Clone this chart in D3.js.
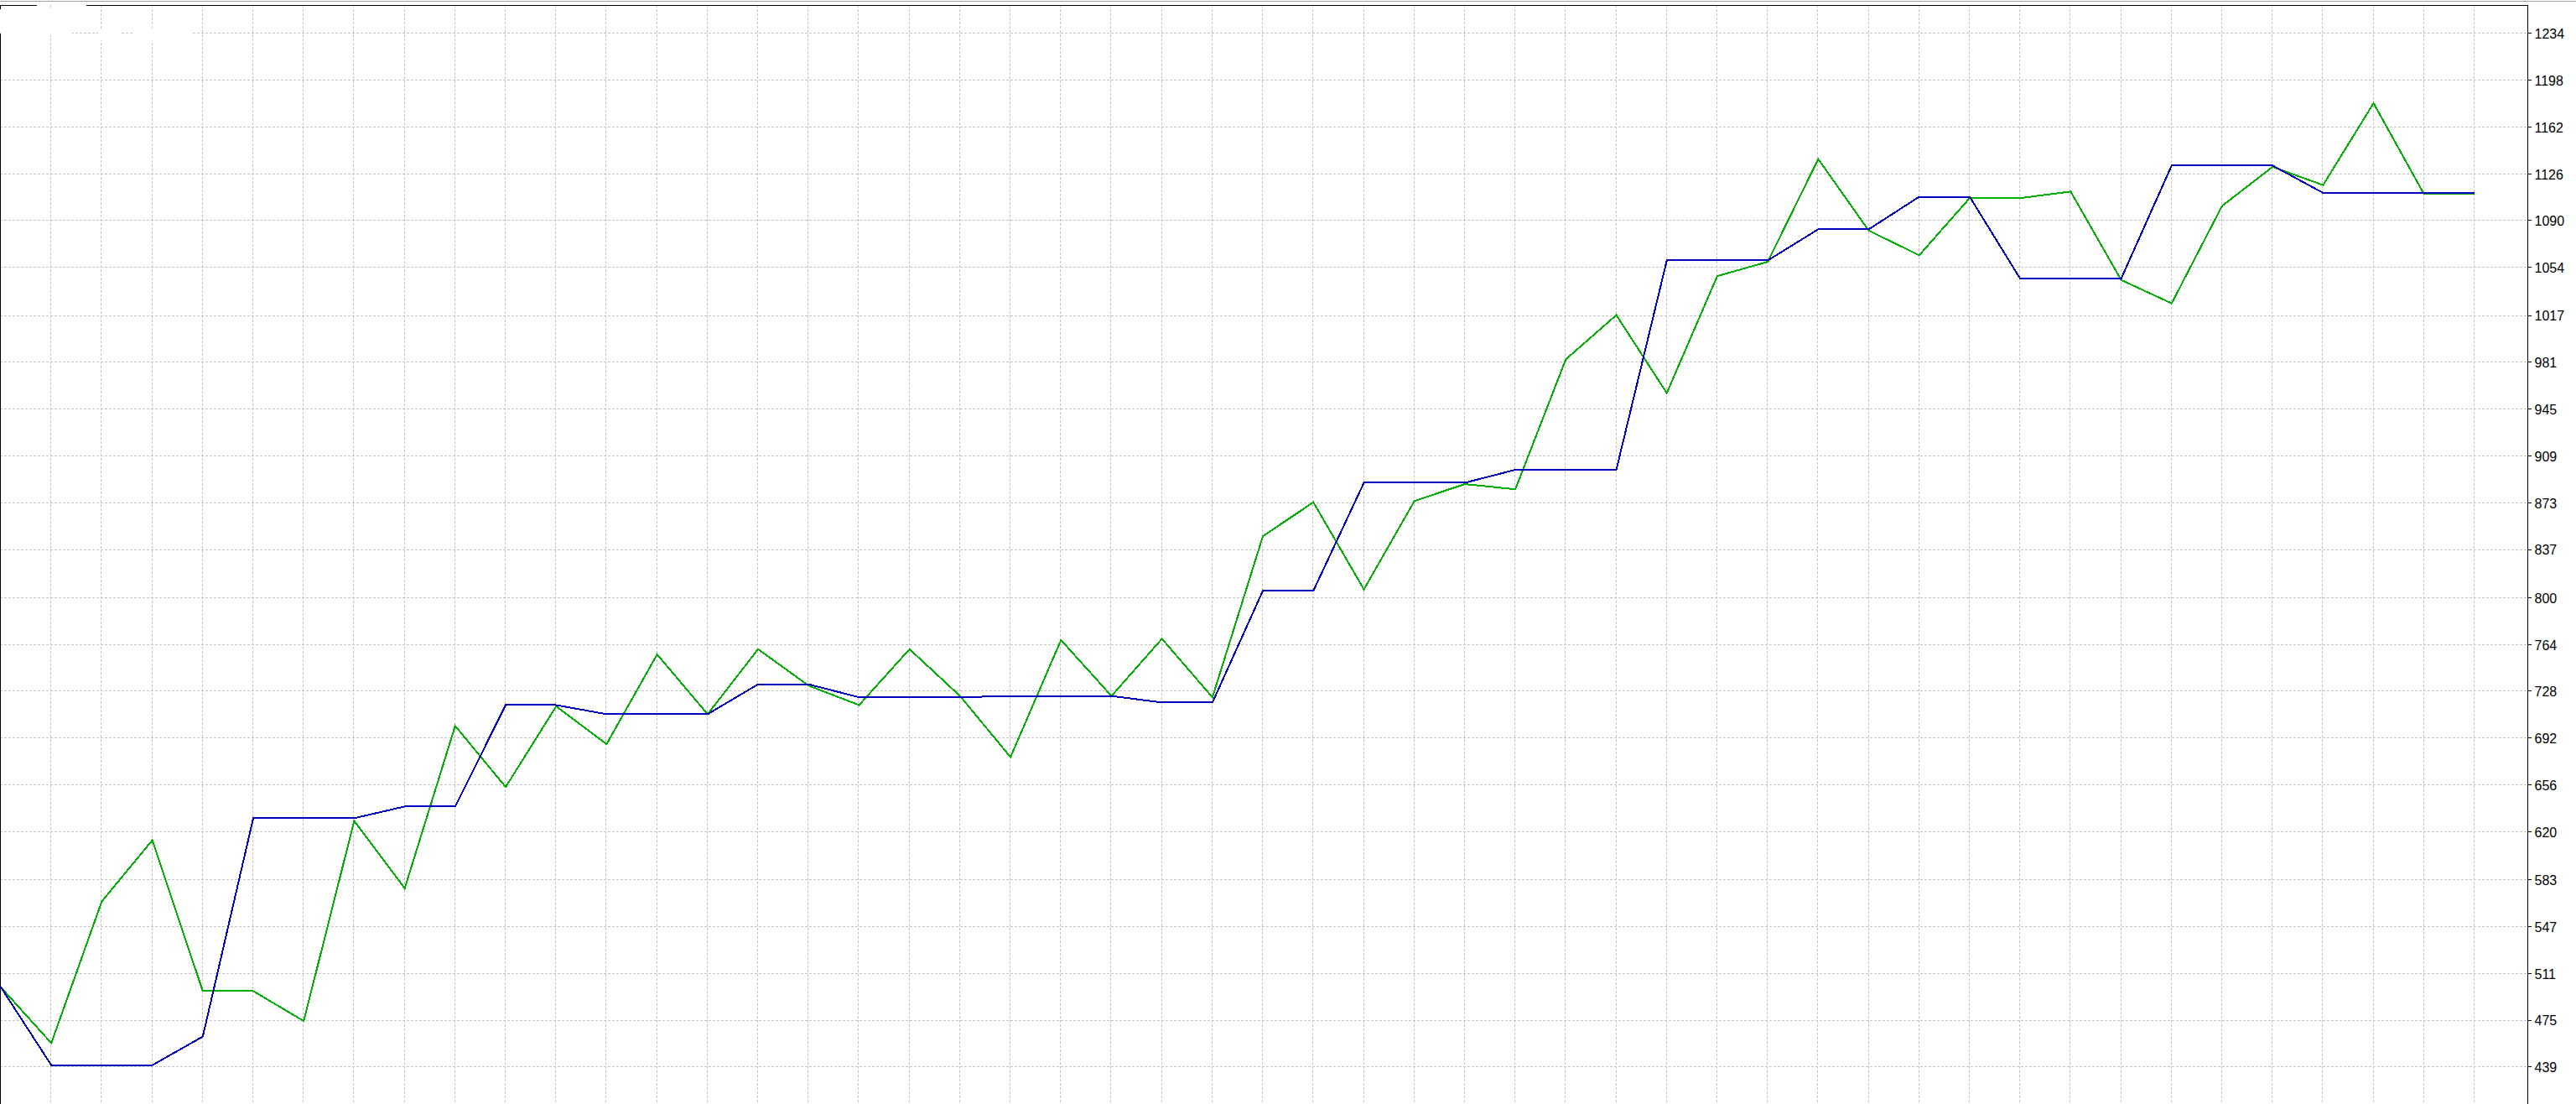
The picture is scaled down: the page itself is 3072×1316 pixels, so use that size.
<!DOCTYPE html>
<html>
<head>
<meta charset="utf-8">
<script src="https://cdn.jsdelivr.net/npm/d3@7"></script>
<style>
  html, body { margin: 0; padding: 0; background: #fff; }
  svg { display: block; }
</style>
</head>
<body>
<svg id="chart" width="3072" height="1316"></svg>
<script>
// --- 資料 ---
const yTicks = [439, 475, 511, 547, 583, 620, 656, 692, 728, 764, 800, 837, 873, 909, 945, 981, 1017, 1054, 1090, 1126, 1162, 1198, 1234];

const blueLine = [500, 440, 440, 440, 462, 630, 630, 630, 639, 639,
  717, 717, 710, 710, 710, 733, 733, 723, 723, 723,
  724, 724, 724, 719, 719, 805, 805, 888, 888, 888,
  898, 898, 898, 1059, 1059, 1059, 1083, 1083, 1108, 1108,
  1045, 1045, 1045, 1132, 1132, 1132, 1111, 1111, 1111, 1111];

const greenLine = [500, 457, 566, 613, 497, 497, 474, 628, 576, 701,
  654, 716, 687, 756, 710, 760, 732, 717, 760, 724,
  677, 767, 724, 768, 723, 847, 873, 806, 874, 887,
  883, 983, 1017, 957, 1047, 1058, 1137, 1082, 1063, 1107,
  1107, 1112, 1044, 1026, 1101, 1131, 1117, 1180, 1110, 1110];

const W = 3072, H = 1316;
const frameRight = 3014, frameTop = 6;

const svg = d3.select("#chart");

// 比例尺
const x = d3.scaleLinear().domain([0, blueLine.length - 1]).range([1, 2951]);
const y = d3.scaleLinear().domain([439, 1234]).range([1271.3, 39.3]);

// --- 格線 ---
const grid = svg.append("g")
  .attr("stroke", "#c4c4c4")
  .attr("stroke-width", 1)
  .attr("stroke-dasharray", "3,2")
  .attr("shape-rendering", "crispEdges");

grid.selectAll("line.h")
  .data(yTicks)
  .join("line")
  .attr("class", "h")
  .attr("x1", 0)
  .attr("x2", frameRight)
  .attr("y1", (d) => Math.round(y(d)) + 0.5)
  .attr("y2", (d) => Math.round(y(d)) + 0.5);

grid.selectAll("line.v")
  .data(d3.range(1, blueLine.length))
  .join("line")
  .attr("class", "v")
  .attr("x1", (d) => Math.round(x(d)) - 0.5)
  .attr("x2", (d) => Math.round(x(d)) - 0.5)
  .attr("y1", frameTop)
  .attr("y2", H);

// 左上角被白字蓋掉的部分
const mask = svg.append("g").attr("fill", "#fff");
mask.append("rect").attr("x", 1).attr("y", 11).attr("width", 85).attr("height", 31);
mask.append("rect").attr("x", 117).attr("y", 36).attr("width", 28).attr("height", 12);
mask.append("rect").attr("x", 158).attr("y", 33).attr("width", 71).attr("height", 15);

// --- 外框 ---
svg.append("line")
  .attr("x1", 0).attr("x2", W).attr("y1", 1.5).attr("y2", 1.5)
  .attr("stroke", "#a0a0a0").attr("stroke-width", 1);

const frame = svg.append("g")
  .attr("stroke", "#000")
  .attr("stroke-width", 1)
  .attr("shape-rendering", "crispEdges");
frame.append("line").attr("x1", 0).attr("x2", 44).attr("y1", frameTop + 0.5).attr("y2", frameTop + 0.5);
frame.append("line").attr("x1", 103).attr("x2", frameRight).attr("y1", frameTop + 0.5).attr("y2", frameTop + 0.5);
frame.append("line").attr("x1", 0.5).attr("x2", 0.5).attr("y1", frameTop).attr("y2", 11);
frame.append("line").attr("x1", 0.5).attr("x2", 0.5).attr("y1", 40).attr("y2", H);
frame.append("line").attr("x1", frameRight + 0.5).attr("x2", frameRight + 0.5).attr("y1", frameTop).attr("y2", H);

// --- 右側價格軸 ---
const yAxis = d3.axisRight(y)
  .tickValues(yTicks)
  .tickSize(4)
  .tickPadding(4)
  .tickFormat(d3.format("d"));

svg.append("g")
  .attr("transform", `translate(${frameRight + 0.5},0)`)
  .call(yAxis)
  .call((g) => g.select(".domain").remove())
  .call((g) => g.selectAll("line").attr("stroke", "#000").attr("shape-rendering", "crispEdges"))
  .call((g) => g.selectAll("text")
    .attr("fill", "#000")
    .attr("font-family", "'Liberation Sans', Arial, sans-serif")
    .attr("font-size", 16)
    .attr("dy", "0.4em"));

// --- 兩條線（不反鋸齒，像原圖）---
const line = d3.line()
  .x((d, i) => x(i))
  .y((d) => y(d));

svg.append("path")
  .datum(greenLine)
  .attr("fill", "none")
  .attr("stroke", "#00b000")
  .attr("stroke-width", 2)
  .attr("shape-rendering", "crispEdges")
  .attr("d", line);

svg.append("path")
  .datum(blueLine)
  .attr("fill", "none")
  .attr("stroke", "#0000c0")
  .attr("stroke-width", 2)
  .attr("shape-rendering", "crispEdges")
  .attr("d", line);
</script>
</body>
</html>
